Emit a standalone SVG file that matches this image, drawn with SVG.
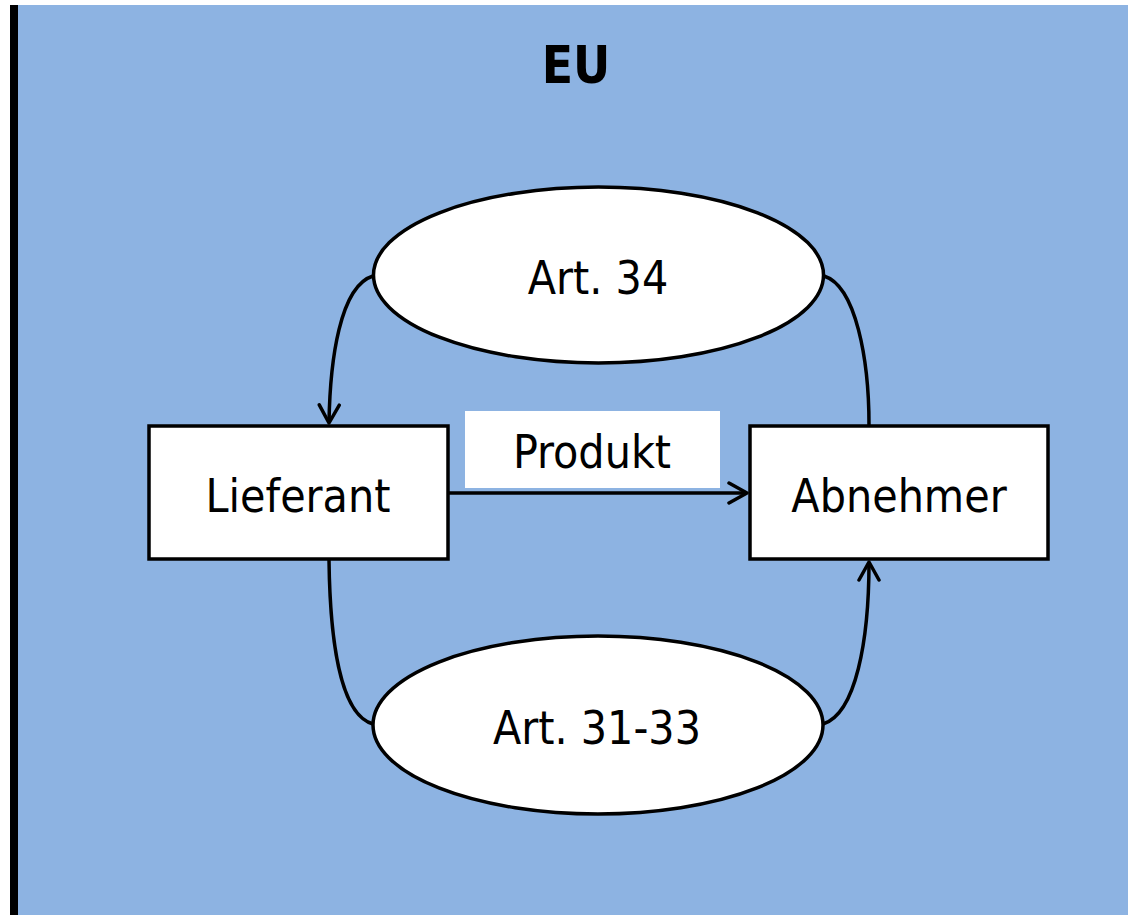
<svg xmlns="http://www.w3.org/2000/svg" width="1128" height="915" viewBox="0 0 1128 915">
<defs>
<style>
.lbl{font-family:"DejaVu Sans Condensed","DejaVu Sans","Liberation Sans",sans-serif;font-stretch:condensed;font-size:46px;fill:#000;text-anchor:middle}
.title{font-family:"DejaVu Sans Condensed","DejaVu Sans","Liberation Sans",sans-serif;font-stretch:condensed;font-weight:bold;font-size:51px;fill:#000;text-anchor:middle}
.box{fill:#fff;stroke:#000;stroke-width:3.5}
.conn{fill:none;stroke:#000;stroke-width:3.5}
</style>
<marker id="arr" viewBox="0 0 22 24" refX="20" refY="12" markerUnits="userSpaceOnUse" markerWidth="22" markerHeight="24" orient="auto">
<path d="M2,2 L20,12 L2,22" fill="none" stroke="#000" stroke-width="3.5" stroke-linecap="round" stroke-linejoin="round"/>
</marker>
</defs>
<rect x="0" y="0" width="1128" height="915" fill="#fff"/>
<rect x="18" y="5" width="1110" height="910" fill="#8DB3E2"/>
<rect x="10" y="5" width="8" height="910" fill="#000"/>
<g id="title"><text class="title" x="576" y="83">EU</text></g>
<g id="connectors">
<path class="conn" d="M373,276 C340,286 330,360 329,423" marker-end="url(#arr)"/>
<path class="conn" d="M824,276 C856,286 869,360 869,425"/>
<path class="conn" d="M329,560 C330,640 340,715 373,724"/>
<path class="conn" d="M823,724 C856,714 869,640 869,562" marker-end="url(#arr)"/>
<path class="conn" d="M449,493 L747,493" marker-end="url(#arr)"/>
</g>
<g id="art34">
<ellipse class="box" cx="598.5" cy="275" rx="225" ry="88"/>
<text class="lbl" x="598" y="294">Art. 34</text>
</g>
<g id="art3133">
<ellipse class="box" cx="598" cy="725" rx="225" ry="89"/>
<text class="lbl" x="597" y="744">Art. 31-33</text>
</g>
<g id="lieferant">
<rect class="box" x="149" y="426" width="299" height="133"/>
<text class="lbl" x="298" y="512">Lieferant</text>
</g>
<g id="abnehmer">
<rect class="box" x="750" y="426" width="298" height="133"/>
<text class="lbl" x="899" y="512">Abnehmer</text>
</g>
<g id="produkt">
<rect x="465" y="411" width="255" height="77" fill="#fff"/>
<text class="lbl" x="592" y="468">Produkt</text>
</g>
</svg>
